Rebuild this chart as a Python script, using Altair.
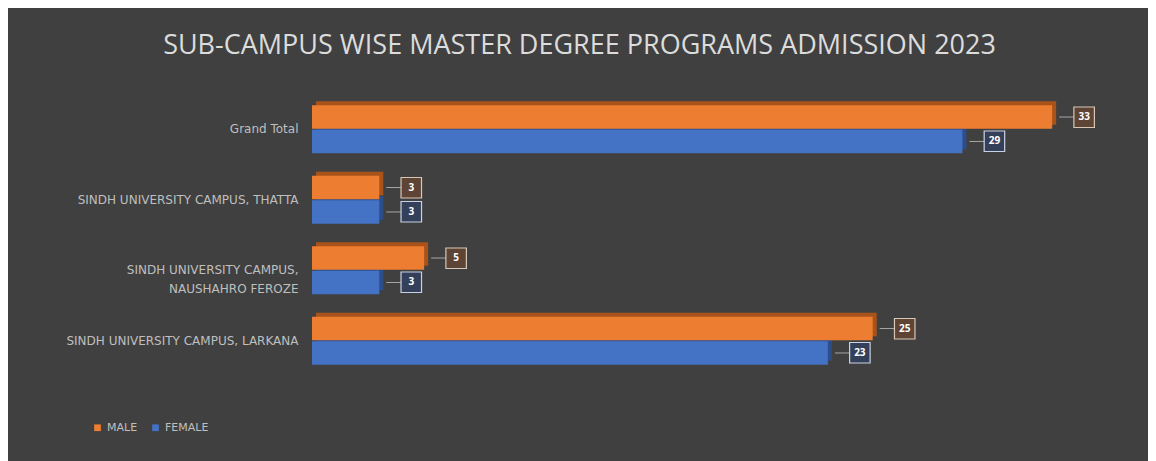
import altair as alt
import pandas as pd

categories = [
    "Grand Total",
    "SINDH UNIVERSITY CAMPUS, THATTA",
    "SINDH UNIVERSITY CAMPUS,\nNAUSHAHRO FEROZE",
    "SINDH UNIVERSITY CAMPUS, LARKANA",
]
male = [33, 3, 5, 25]
female = [29, 3, 3, 23]
genders = ["MALE", "FEMALE"]

rows = []
for c, m, f in zip(categories, male, female):
    rows.append({"cat": c, "gender": "MALE", "value": m})
    rows.append({"cat": c, "gender": "FEMALE", "value": f})
df = pd.DataFrame(rows)

FONT = "Open Sans"
LFONT = "DejaVu Sans"
face = alt.Scale(domain=genders, range=["#ED7D31", "#4472C4"])
depth = alt.Scale(domain=genders, range=["#A9531B", "#2C4F8C"])
boxfill = alt.Scale(domain=genders, range=["#5E4434", "#34405A"])
boxstroke = alt.Scale(domain=genders, range=["#D8C6B6", "#C8D2E4"])

yenc = alt.Y(
    "cat:N",
    sort=categories,
    title=None,
    scale=alt.Scale(paddingInner=0.32, paddingOuter=0.16),
    axis=alt.Axis(
        domain=False,
        ticks=False,
        labelColor="#BFBFBF",
        labelFont=LFONT,
        labelFontSize=12,
        labelLineHeight=19,
        labelPadding=14,
        labelLimit=400,
        labelExpr="split(datum.label, '\\n')",
    ),
)
yoff = alt.YOffset("gender:N", sort=genders, scale=alt.Scale(paddingInner=0.04))
yoff_depth = alt.YOffset(
    "gender:N", sort=genders, scale=alt.Scale(paddingInner=0.04, range=[-4, 44])
)
xenc = alt.X("value:Q", scale=alt.Scale(domain=[0, 35], nice=False), axis=None, title=None)

depth_bars = (
    alt.Chart(df)
    .mark_bar(xOffset=4)
    .encode(
        y=yenc,
        yOffset=yoff_depth,
        x=xenc,
        color=alt.Color("gender:N", scale=depth, legend=None),
    )
)

base = alt.Chart(df).encode(y=yenc, yOffset=yoff)

bars = base.mark_bar().encode(
    x=xenc,
    color=alt.Color(
        "gender:N",
        scale=face,
        sort=genders,
        legend=alt.Legend(
            title=None,
            orient="none",
            legendX=-220,
            legendY=328,
            direction="horizontal",
            symbolType="square",
            symbolSize=45,
            symbolStrokeWidth=0,
            labelColor="#BFBFBF",
            labelFont=LFONT,
            labelFontSize=11,
            columnPadding=12,
        ),
    ),
)
leaders = base.mark_rule(xOffset=7, x2Offset=22, color="#A6A6A6", strokeWidth=1).encode(
    x=xenc, x2="value:Q"
)
boxes = base.mark_square(size=420, xOffset=32, strokeWidth=1.2, opacity=1).encode(
    x=xenc,
    fill=alt.Fill("gender:N", scale=boxfill, legend=None),
    stroke=alt.Stroke("gender:N", scale=boxstroke, legend=None),
)
labels = base.mark_text(dx=32, font=FONT, fontSize=10, fontWeight="bold", color="#FFFFFF").encode(
    x=xenc, text="value:Q"
)

chart = (
    alt.layer(depth_bars, bars, leaders, boxes, labels)
    .resolve_scale(color="independent", yOffset="independent")
    .properties(
        width=785,
        height=282,
        background="#404040",
        padding={"left": 304, "top": 86, "right": 51, "bottom": 85},
        autosize=alt.AutoSizeParams(type="none"),
        title=alt.TitleParams(
            "SUB-CAMPUS WISE MASTER DEGREE PROGRAMS ADMISSION 2023",
            font=FONT,
            fontSize=27,
            fontWeight="normal",
            color="#DCDCDC",
            anchor="middle",
            dx=-125,
            offset=34,
        ),
    )
    .configure_view(stroke=None)
)

chart.save("out.html", embed_options={"renderer": "svg", "actions": False})
